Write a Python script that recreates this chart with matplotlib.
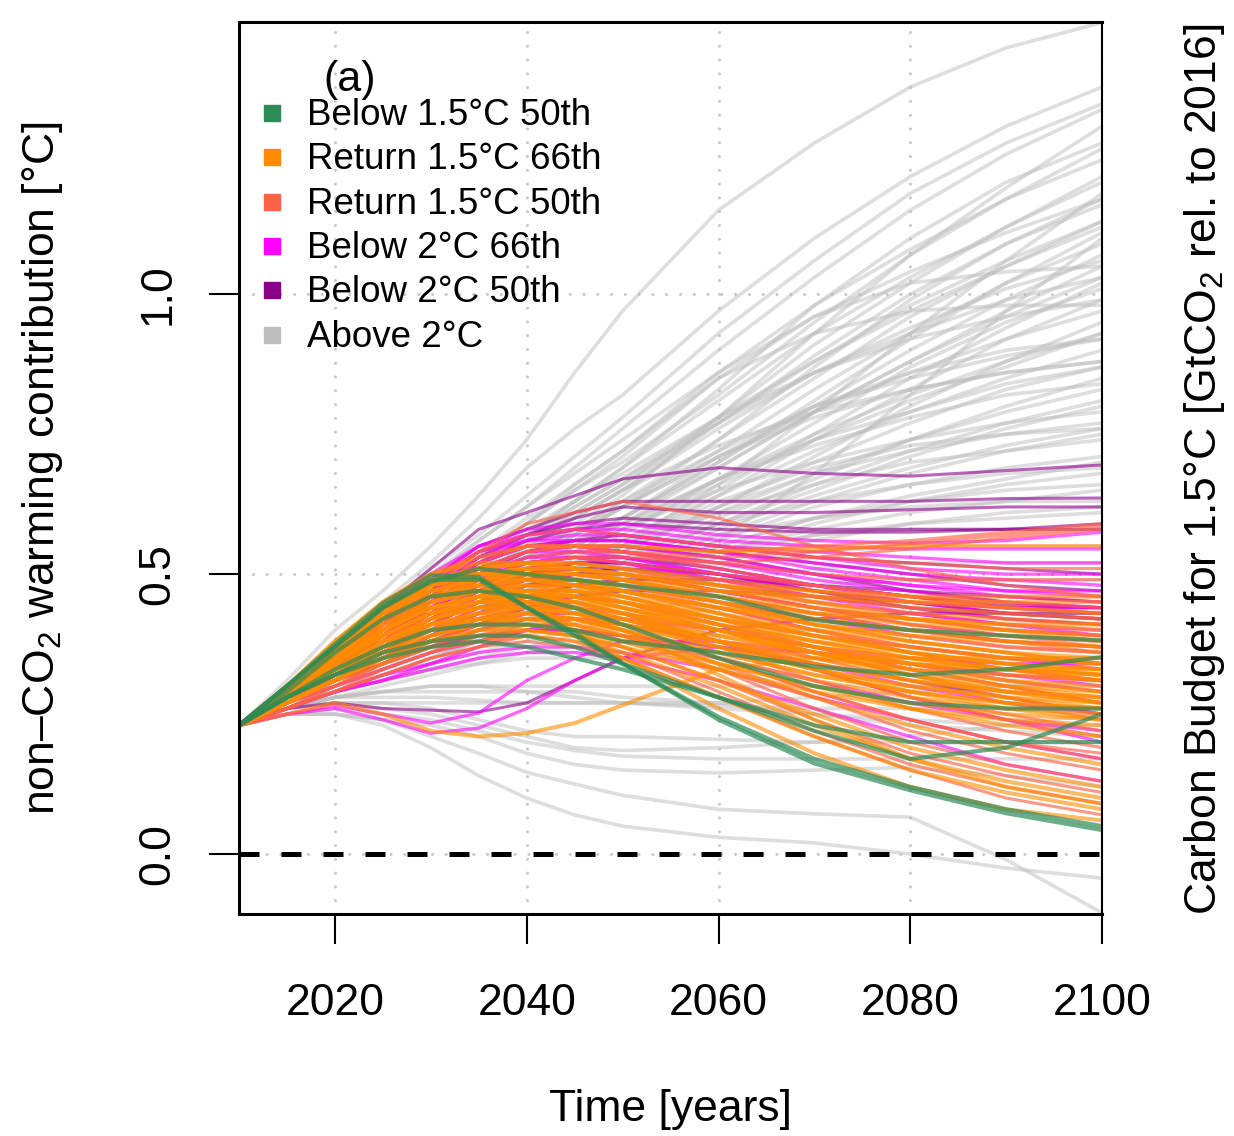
import matplotlib.pyplot as plt

plt.rcParams['font.family'] = ['Liberation Sans', 'DejaVu Sans']
plt.rcParams['mathtext.fontset'] = 'custom'
plt.rcParams['mathtext.rm'] = 'Liberation Sans'
plt.rcParams['mathtext.it'] = 'Liberation Sans:italic'

# time axis of every pathway
years = [2010, 2015, 2020, 2025, 2030, 2035, 2040, 2045, 2050, 2060, 2070, 2080, 2090, 2100]

# non-CO2 warming [degC] per scenario class
above_2 = [
    [.23, .31, .40, .47, .55, .64, .74, .86, .97, 1.15, 1.27, 1.37, 1.44, 1.485],
    [.23, .30, .37, .45, .52, .60, .69, .76, .82, .97, 1.10, 1.21, 1.30, 1.37],
    [.23, .30, .37, .44, .51, .57, .64, .71, .78, .93, 1.06, 1.18, 1.27, 1.34],
    [.23, .29, .36, .43, .49, .56, .62, .69, .76, .90, 1.03, 1.15, 1.25, 1.33],
    [.23, .28, .33, .38, .43, .48, .53, .59, .64, .78, .93, 1.07, 1.19, 1.30],
    [.23, .29, .35, .41, .47, .52, .57, .63, .69, .83, .98, 1.10, 1.20, 1.27],
    [.23, .29, .35, .41, .47, .53, .59, .65, .70, .82, .95, 1.07, 1.17, 1.26],
    [.23, .29, .36, .42, .48, .54, .60, .66, .72, .86, .98, 1.08, 1.17, 1.24],
    [.23, .28, .34, .40, .46, .51, .57, .63, .69, .81, .93, 1.03, 1.12, 1.21],
    [.23, .28, .34, .39, .45, .50, .55, .61, .66, .78, .91, 1.02, 1.12, 1.20],
    [.23, .27, .31, .35, .39, .43, .47, .51, .55, .66, .79, .93, 1.06, 1.18],
    [.23, .30, .37, .44, .50, .56, .62, .68, .74, .86, .96, 1.04, 1.11, 1.17],
    [.23, .28, .33, .38, .43, .48, .52, .57, .62, .74, .87, .99, 1.09, 1.17],
    [.23, .28, .33, .39, .44, .49, .54, .60, .65, .77, .89, 1.00, 1.09, 1.16],
    [.23, .28, .33, .38, .43, .48, .53, .58, .63, .74, .85, .96, 1.05, 1.13],
    [.23, .29, .34, .40, .45, .51, .56, .61, .66, .77, .88, .98, 1.06, 1.13],
    [.23, .28, .34, .40, .45, .51, .56, .62, .67, .78, .88, .97, 1.05, 1.12],
    [.23, .28, .33, .38, .42, .47, .51, .56, .60, .70, .81, .92, 1.02, 1.11],
    [.23, .26, .29, .32, .35, .38, .41, .44, .47, .56, .68, .82, .97, 1.10],
    [.23, .28, .33, .38, .43, .48, .52, .57, .62, .72, .83, .93, 1.02, 1.09],
    [.23, .28, .33, .37, .42, .46, .51, .55, .60, .70, .80, .90, .99, 1.07],
    [.23, .28, .34, .39, .45, .50, .55, .60, .65, .76, .86, .94, 1.01, 1.06],
    [.23, .29, .35, .41, .47, .53, .59, .65, .71, .85, .96, 1.02, 1.04, 1.05],
    [.23, .28, .33, .38, .43, .47, .52, .56, .60, .69, .79, .88, .97, 1.05],
    [.23, .28, .32, .37, .41, .46, .50, .55, .59, .69, .79, .88, .96, 1.03],
    [.23, .29, .34, .40, .46, .51, .57, .62, .67, .77, .86, .93, .99, 1.03],
    [.23, .27, .32, .36, .40, .44, .48, .52, .56, .65, .75, .85, .94, 1.02],
    [.23, .27, .32, .36, .41, .45, .49, .53, .57, .67, .77, .87, .95, 1.01],
    [.23, .27, .31, .35, .39, .43, .47, .51, .55, .64, .74, .83, .92, .99],
    [.23, .29, .34, .40, .46, .52, .58, .63, .68, .78, .86, .92, .96, .99],
    [.23, .29, .35, .41, .47, .53, .59, .66, .72, .85, .93, .97, .98, .98],
    [.23, .28, .33, .38, .43, .48, .53, .57, .62, .71, .79, .86, .92, .97],
    [.23, .27, .31, .35, .39, .43, .47, .51, .54, .62, .71, .80, .88, .95],
    [.23, .27, .32, .36, .41, .45, .49, .54, .58, .67, .75, .82, .88, .93],
    [.23, .28, .32, .37, .42, .46, .50, .54, .58, .66, .74, .81, .87, .93],
    [.23, .28, .33, .38, .43, .48, .53, .58, .63, .72, .80, .85, .89, .92],
    [.23, .27, .31, .36, .40, .45, .50, .55, .60, .71, .80, .86, .90, .92],
    [.23, .27, .31, .36, .40, .44, .48, .52, .56, .64, .72, .79, .85, .90],
    [.23, .28, .33, .39, .44, .50, .55, .60, .65, .73, .79, .83, .86, .88],
    [.23, .28, .33, .38, .43, .48, .53, .58, .62, .71, .78, .83, .86, .88],
    [.23, .27, .31, .35, .39, .43, .47, .51, .54, .62, .70, .77, .83, .87],
    [.23, .28, .33, .37, .42, .47, .51, .55, .59, .67, .74, .79, .84, .87],
    [.23, .27, .31, .35, .39, .42, .46, .50, .53, .60, .67, .74, .80, .85],
    [.23, .28, .32, .37, .42, .46, .51, .55, .59, .67, .73, .78, .82, .84],
    [.23, .27, .31, .35, .38, .42, .46, .50, .54, .61, .68, .74, .79, .83],
    [.23, .27, .31, .34, .38, .41, .45, .48, .52, .59, .66, .72, .77, .81],
    [.23, .27, .31, .35, .38, .42, .45, .49, .52, .59, .65, .71, .76, .80],
    [.23, .28, .32, .37, .41, .45, .50, .54, .58, .65, .70, .74, .77, .79],
    [.23, .28, .32, .36, .40, .44, .48, .52, .55, .62, .68, .72, .75, .77],
    [.23, .27, .31, .35, .39, .43, .47, .51, .55, .63, .69, .73, .75, .76],
    [.23, .27, .30, .34, .38, .41, .45, .48, .51, .58, .64, .69, .73, .76],
    [.23, .27, .30, .34, .37, .41, .44, .47, .50, .57, .63, .68, .72, .75],
    [.23, .27, .31, .35, .39, .43, .47, .51, .55, .61, .66, .70, .72, .74],
    [.23, .27, .30, .34, .37, .40, .44, .47, .50, .56, .62, .66, .69, .71],
    [.23, .27, .31, .34, .38, .41, .44, .47, .50, .55, .60, .64, .67, .70],
    [.23, .27, .31, .35, .39, .43, .47, .50, .53, .59, .63, .66, .68, .69],
    [.23, .26, .30, .33, .36, .40, .43, .46, .48, .54, .59, .63, .66, .68],
    [.23, .26, .30, .33, .37, .40, .43, .46, .49, .55, .60, .63, .65, .66],
    [.23, .27, .30, .34, .37, .40, .43, .46, .49, .54, .58, .61, .63, .65],
    [.23, .27, .31, .35, .38, .42, .45, .49, .52, .57, .60, .62, .63, .63],
    [.23, .26, .29, .33, .36, .39, .42, .45, .47, .52, .56, .59, .61, .62],
    [.23, .26, .30, .33, .36, .39, .42, .45, .48, .53, .57, .59, .60, .61],
    [.23, .27, .31, .34, .38, .41, .44, .47, .50, .54, .57, .58, .58, .58],
    [.23, .26, .29, .32, .35, .38, .41, .44, .46, .51, .54, .55, .55, .55],
    [.23, .26, .29, .32, .35, .38, .40, .43, .45, .49, .51, .52, .52, .52],
    [.23, .26, .29, .32, .34, .37, .39, .41, .43, .46, .48, .49, .49, .49],
    [.23, .26, .29, .31, .34, .36, .38, .40, .42, .44, .45, .46, .46, .46],
    [.23, .26, .29, .31, .33, .35, .37, .39, .40, .42, .43, .43, .43, .43],
    [.23, .26, .28, .30, .32, .34, .36, .37, .38, .39, .40, .40, .40, .40],
    [.23, .26, .29, .31, .33, .34, .35, .35, .35, .35, .35, .35, .35, .35],
    [.23, .26, .28, .29, .30, .30, .30, .30, .30, .30, .30, .30, .30, .30],
    [.23, .26, .28, .29, .30, .30, .29, .28, .27, .26, .25, .24, .23, .23],
    [.23, .26, .28, .29, .29, .29, .29, .29, .28, .27, .25, .23, .22, .21],
    [.23, .26, .27, .27, .27, .27, .27, .27, .27, .27, .28, .29, .30, .31],
    [.23, .26, .28, .28, .28, .275, .27, .27, .27, .265, .26, .26, .26, .26],
    [.23, .26, .27, .26, .25, .23, .21, .19, .185, .19, .20, .21, .23, .25],
    [.23, .26, .27, .27, .26, .24, .22, .21, .21, .205, .20, .20, .20, .20],
    [.23, .25, .26, .25, .24, .22, .20, .185, .175, .17, .17, .17, .17, .17],
    [.23, .25, .25, .24, .23, .21, .18, .16, .15, .145, .15, .155, .14, .12],
    [.23, .25, .25, .24, .21, .18, .146, .125, .105, .08, .072, .066, -.01, -.105],
    [.23, .25, .25, .23, .19, .14, .10, .07, .05, .03, .02, .0, -.025, -.043],
]

below2_50 = [
    [.23, .29, .36, .44, .51, .58, .61, .64, .67, .69, .68, .675, .685, .695],
    [.23, .29, .35, .42, .49, .55, .58, .61, .63, .63, .63, .63, .635, .636],
    [.23, .28, .34, .41, .47, .53, .57, .60, .62, .61, .61, .615, .62, .62],
    [.23, .29, .35, .42, .48, .54, .57, .59, .60, .59, .58, .58, .58, .59],
    [.23, .28, .34, .40, .46, .52, .56, .58, .59, .58, .575, .575, .58, .58],
    [.23, .29, .35, .41, .47, .52, .55, .56, .56, .54, .52, .50, .48, .47],
    [.23, .28, .33, .39, .45, .50, .54, .56, .57, .55, .53, .52, .51, .50],
    [.23, .28, .34, .40, .46, .51, .54, .55, .55, .53, .50, .47, .45, .44],
    [.23, .28, .33, .39, .44, .49, .52, .53, .53, .51, .48, .46, .44, .43],
    [.23, .28, .33, .39, .44, .48, .51, .52, .52, .50, .47, .45, .43, .42],
    [.23, .28, .33, .38, .43, .47, .50, .51, .51, .49, .47, .45, .43, .42],
    [.23, .28, .33, .38, .43, .47, .50, .52, .52, .50, .47, .44, .42, .41],
    [.23, .28, .33, .38, .43, .47, .49, .50, .50, .48, .46, .44, .43, .42],
    [.23, .27, .32, .37, .41, .45, .48, .50, .51, .50, .48, .46, .445, .44],
    [.23, .27, .31, .35, .39, .43, .46, .48, .49, .49, .48, .47, .46, .45],
    [.23, .26, .27, .26, .257, .254, .27, .31, .35, .40, .42, .43, .43, .43],
    [.23, .27, .31, .35, .38, .41, .44, .46, .47, .47, .46, .45, .44, .44],
    [.23, .27, .31, .34, .37, .39, .40, .40, .39, .37, .34, .31, .28, .25],
]

below2_66 = [
    [.23, .29, .35, .42, .49, .55, .58, .59, .59, .57, .56, .555, .56, .575],
    [.23, .29, .35, .42, .48, .54, .57, .58, .58, .56, .55, .545, .545, .545],
    [.23, .30, .37, .44, .50, .55, .57, .58, .57, .55, .53, .51, .50, .50],
    [.23, .29, .35, .41, .47, .53, .56, .57, .57, .55, .54, .53, .52, .52],
    [.23, .29, .36, .43, .49, .54, .56, .56, .56, .54, .51, .49, .47, .46],
    [.23, .29, .36, .42, .48, .53, .55, .55, .54, .52, .50, .48, .47, .47],
    [.23, .28, .34, .41, .47, .52, .55, .56, .56, .54, .52, .50, .49, .48],
    [.23, .29, .35, .42, .47, .52, .55, .55, .54, .51, .48, .45, .43, .42],
    [.23, .28, .34, .40, .46, .51, .54, .55, .55, .53, .50, .48, .46, .45],
    [.23, .29, .35, .41, .46, .51, .54, .54, .53, .50, .47, .45, .44, .44],
    [.23, .28, .34, .40, .45, .50, .53, .54, .54, .52, .49, .47, .45, .44],
    [.23, .28, .33, .39, .45, .50, .53, .53, .53, .50, .48, .46, .44, .43],
    [.23, .28, .34, .40, .45, .50, .52, .53, .52, .49, .46, .43, .41, .39],
    [.23, .28, .33, .39, .44, .49, .52, .53, .52, .49, .46, .44, .42, .41],
    [.23, .28, .34, .39, .44, .48, .51, .51, .50, .47, .44, .42, .40, .39],
    [.23, .28, .33, .38, .44, .48, .51, .52, .51, .48, .45, .43, .41, .40],
    [.23, .28, .33, .38, .43, .47, .50, .51, .50, .47, .44, .41, .39, .38],
    [.23, .28, .33, .38, .43, .47, .49, .49, .48, .45, .42, .40, .38, .37],
    [.23, .28, .32, .37, .42, .46, .49, .50, .49, .46, .43, .40, .38, .37],
    [.23, .27, .32, .37, .41, .45, .48, .49, .48, .45, .42, .39, .37, .36],
    [.23, .28, .33, .38, .42, .46, .48, .48, .47, .44, .40, .37, .35, .33],
    [.23, .27, .32, .36, .40, .43, .45, .46, .45, .42, .39, .37, .35, .34],
    [.23, .27, .32, .36, .40, .44, .46, .46, .45, .41, .37, .33, .30, .27],
    [.23, .27, .31, .35, .39, .42, .44, .44, .43, .40, .37, .34, .31, .29],
    [.23, .27, .31, .34, .37, .40, .42, .42, .41, .38, .34, .30, .27, .25],
    [.23, .27, .31, .35, .38, .41, .43, .43, .42, .38, .33, .28, .24, .20],
    [.23, .27, .30, .33, .36, .38, .40, .40, .39, .35, .31, .27, .24, .22],
    [.23, .26, .29, .32, .34, .36, .37, .37, .36, .33, .28, .24, .20, .17],
    [.23, .26, .29, .31, .34, .37, .40, .42, .42, .40, .37, .35, .34, .34],
    [.23, .25, .266, .25, .234, .252, .31, .35, .38, .38, .36, .34, .32, .30],
    [.23, .25, .26, .24, .216, .225, .26, .31, .35, .37, .36, .34, .32, .31],
    [.23, .26, .29, .31, .33, .35, .36, .36, .35, .31, .26, .21, .16, .13],
]

return15_50 = [
    [.23, .29, .35, .42, .48, .54, .59, .61, .63, .60, .55, .51, .48, .46],
    [.23, .28, .34, .40, .46, .51, .54, .55, .55, .54, .55, .56, .575, .59],
    [.23, .28, .34, .40, .45, .50, .53, .54, .54, .53, .54, .555, .57, .585],
    [.23, .28, .33, .39, .45, .49, .52, .53, .53, .52, .53, .545, .565, .58],
    [.23, .29, .36, .43, .49, .54, .57, .58, .57, .55, .53, .52, .51, .51],
    [.23, .28, .34, .40, .46, .51, .54, .55, .54, .52, .50, .49, .49, .49],
    [.23, .29, .35, .42, .48, .52, .55, .55, .54, .51, .48, .46, .44, .43],
    [.23, .28, .33, .39, .44, .49, .52, .53, .52, .50, .48, .46, .45, .44],
    [.23, .28, .33, .38, .43, .48, .51, .51, .50, .47, .44, .42, .40, .39],
    [.23, .28, .34, .40, .45, .49, .51, .51, .50, .47, .44, .41, .39, .37],
    [.23, .28, .33, .38, .43, .47, .50, .50, .49, .46, .43, .40, .38, .36],
    [.23, .27, .32, .37, .42, .46, .49, .49, .48, .45, .41, .38, .36, .34],
    [.23, .27, .32, .37, .42, .45, .48, .48, .47, .43, .39, .36, .33, .31],
    [.23, .28, .33, .38, .43, .47, .49, .49, .48, .44, .40, .36, .33, .31],
    [.23, .27, .31, .35, .38, .41, .42, .42, .41, .38, .35, .33, .32, .31],
    [.23, .27, .32, .36, .41, .45, .47, .47, .46, .42, .37, .33, .30, .27],
    [.23, .28, .33, .37, .42, .45, .47, .47, .45, .41, .36, .32, .28, .25],
    [.23, .27, .31, .36, .40, .44, .46, .46, .45, .40, .35, .31, .27, .24],
    [.23, .27, .32, .36, .40, .43, .45, .45, .43, .38, .33, .28, .25, .22],
    [.23, .27, .31, .35, .39, .43, .45, .45, .43, .38, .33, .28, .24, .21],
    [.23, .27, .31, .35, .39, .42, .44, .44, .42, .37, .31, .26, .22, .19],
    [.23, .27, .31, .35, .39, .41, .43, .42, .40, .35, .29, .24, .20, .18],
    [.23, .27, .30, .34, .38, .41, .43, .43, .41, .35, .29, .24, .20, .17],
    [.23, .26, .30, .34, .37, .40, .42, .42, .40, .34, .28, .22, .18, .15],
    [.23, .26, .30, .33, .36, .39, .41, .41, .39, .33, .26, .20, .16, .13],
    [.23, .26, .29, .33, .36, .38, .40, .39, .37, .31, .24, .18, .14, .11],
    [.23, .26, .29, .32, .35, .37, .39, .38, .36, .29, .22, .16, .12, .09],
    [.23, .26, .29, .32, .35, .37, .38, .37, .35, .28, .21, .15, .10, .07],
]

return15_66 = [
    [.23, .30, .38, .45, .50, .53, .55, .55, .55, .54, .545, .55, .55, .55],
    [.23, .30, .37, .44, .48, .50, .51, .51, .50, .48, .47, .46, .46, .46],
    [.23, .30, .37, .44, .48, .50, .50, .50, .49, .47, .46, .45, .45, .45],
    [.23, .30, .38, .45, .50, .52, .52, .51, .49, .45, .41, .38, .36, .34],
    [.23, .30, .37, .44, .49, .51, .52, .52, .51, .49, .47, .45, .44, .43],
    [.23, .29, .36, .43, .48, .51, .52, .52, .51, .48, .45, .42, .40, .38],
    [.23, .29, .37, .44, .48, .50, .51, .51, .50, .48, .46, .44, .43, .42],
    [.23, .29, .37, .44, .49, .51, .52, .51, .50, .47, .45, .43, .42, .41],
    [.23, .30, .37, .44, .49, .50, .50, .49, .47, .43, .39, .36, .34, .32],
    [.23, .30, .37, .44, .48, .50, .50, .49, .48, .45, .43, .42, .41, .41],
    [.23, .29, .36, .43, .48, .50, .51, .50, .49, .46, .44, .42, .41, .40],
    [.23, .29, .36, .43, .47, .49, .50, .50, .49, .46, .43, .41, .40, .39],
    [.23, .29, .37, .43, .48, .49, .49, .48, .46, .42, .38, .35, .33, .31],
    [.23, .29, .36, .43, .47, .49, .49, .48, .47, .44, .41, .39, .38, .37],
    [.23, .29, .36, .42, .47, .49, .50, .49, .48, .45, .42, .40, .39, .38],
    [.23, .29, .36, .42, .46, .48, .48, .47, .45, .41, .37, .34, .31, .29],
    [.23, .29, .35, .42, .46, .48, .49, .49, .47, .44, .42, .40, .38, .37],
    [.23, .29, .35, .42, .46, .47, .47, .46, .45, .42, .39, .37, .35, .34],
    [.23, .29, .35, .41, .46, .48, .49, .48, .47, .44, .41, .39, .37, .36],
    [.23, .29, .35, .41, .45, .47, .47, .46, .44, .40, .36, .32, .29, .27],
    [.23, .29, .35, .41, .45, .47, .48, .48, .46, .43, .40, .38, .36, .35],
    [.23, .28, .35, .40, .44, .46, .46, .45, .44, .41, .38, .36, .34, .33],
    [.23, .29, .35, .40, .45, .47, .48, .47, .46, .42, .40, .37, .35, .34],
    [.23, .28, .34, .40, .44, .46, .46, .46, .44, .40, .36, .32, .29, .28],
    [.23, .28, .34, .40, .44, .45, .45, .44, .42, .38, .34, .31, .29, .28],
    [.23, .28, .34, .40, .44, .46, .47, .47, .45, .42, .39, .36, .34, .33],
    [.23, .28, .34, .40, .44, .46, .47, .46, .45, .41, .38, .35, .33, .32],
    [.23, .28, .34, .39, .43, .45, .45, .44, .43, .40, .37, .35, .33, .32],
    [.23, .28, .34, .39, .43, .45, .46, .46, .44, .40, .37, .34, .32, .31],
    [.23, .28, .34, .39, .43, .44, .44, .43, .41, .37, .33, .30, .28, .27],
    [.23, .28, .34, .39, .43, .45, .46, .45, .43, .40, .36, .33, .31, .30],
    [.23, .28, .33, .38, .42, .44, .45, .45, .43, .39, .36, .33, .30, .29],
    [.23, .28, .33, .38, .42, .44, .44, .43, .42, .39, .36, .34, .33, .32],
    [.23, .28, .33, .38, .42, .44, .45, .44, .42, .38, .35, .32, .30, .28],
    [.23, .28, .33, .38, .41, .43, .43, .42, .40, .36, .32, .29, .27, .26],
    [.23, .28, .33, .38, .41, .43, .44, .44, .42, .38, .34, .31, .29, .27],
    [.23, .28, .33, .37, .41, .42, .43, .42, .41, .38, .36, .34, .33, .33],
    [.23, .28, .33, .37, .41, .43, .44, .43, .41, .37, .33, .30, .28, .26],
    [.23, .28, .32, .37, .40, .42, .42, .41, .39, .35, .31, .28, .26, .25],
    [.23, .28, .32, .37, .40, .42, .43, .42, .40, .36, .32, .29, .26, .24],
    [.23, .28, .34, .40, .44, .46, .46, .45, .43, .38, .33, .29, .27, .26],
    [.23, .28, .32, .36, .40, .42, .42, .42, .39, .34, .30, .26, .23, .21],
    [.23, .27, .32, .36, .39, .41, .41, .40, .38, .34, .30, .27, .25, .24],
    [.23, .27, .32, .36, .39, .41, .42, .41, .38, .33, .28, .23, .19, .16],
    [.23, .27, .31, .35, .38, .40, .40, .39, .37, .33, .29, .26, .24, .23],
    [.23, .27, .31, .35, .38, .40, .41, .40, .37, .31, .25, .19, .15, .12],
    [.23, .27, .31, .35, .38, .39, .40, .39, .36, .30, .23, .17, .13, .10],
    [.23, .27, .31, .34, .37, .38, .39, .38, .35, .28, .21, .15, .11, .08],
    [.23, .29, .36, .42, .47, .48, .47, .44, .40, .32, .24, .17, .12, .09],
    [.23, .29, .37, .44, .49, .49, .45, .40, .35, .26, .18, .12, .08, .06],
    [.23, .25, .27, .25, .22, .21, .216, .234, .266, .33, .35, .35, .35, .35],
]

below15_50 = [
    [.23, .30, .375, .448, .498, .495, .441, .395, .341, .24, .162, .114, .073, .043],
    [.23, .30, .37, .44, .49, .49, .44, .39, .34, .245, .17, .12, .08, .05],
    [.23, .30, .37, .44, .486, .51, .50, .49, .48, .46, .418, .40, .39, .382],
    [.23, .28, .33, .37, .40, .41, .41, .40, .38, .36, .335, .32, .33, .352],
    [.23, .28, .32, .36, .38, .39, .39, .37, .34, .28, .22, .17, .19, .25],
    [.23, .28, .32, .35, .37, .38, .37, .35, .33, .28, .23, .20, .20, .20],
    [.23, .29, .36, .42, .46, .47, .46, .44, .41, .35, .30, .27, .26, .26],
]

legend_labels = ['Below 1.5°C 50th', 'Return 1.5°C 66th', 'Return 1.5°C 50th',
                 'Below 2°C 66th', 'Below 2°C 50th', 'Above 2°C']
legend_colors = ['#2E8B57', '#FF8C00', '#FF6347', '#FF00FF', '#8B008B', '#BEBEBE']

fig = plt.figure(figsize=(12.34, 11.36), dpi=100)
ax = fig.add_axes([0.1937, 0.1954, 0.6994, 0.7852])

# scenario bundles, drawn from the warmest class upwards
groups = [
    (above_2, '#BEBEBE', 2.6, 0.5),
    (below2_50, '#8B008B', 2.2, 0.6),
    (below2_66, '#FF00FF', 2.4, 0.6),
    (return15_50, '#FF6347', 2.2, 0.65),
    (return15_66, '#FF8C00', 2.9, 0.6),
    (below15_50, '#2E8B57', 3.0, 0.7),
]
for data, col, lw, a in groups:
    for row in data:
        ax.plot(years, row, color=col, lw=lw, alpha=a, solid_joinstyle='round', zorder=2)

ax.axhline(0, color='black', lw=3.6, ls=(0, (4, 4.4)), zorder=4)

ax.set_xlim(2010, 2100)
ax.set_ylim(-0.107, 1.486)
ax.set_xticks([2020, 2040, 2060, 2080, 2100])
ax.set_yticks([0.0, 0.5, 1.0], ['0.0', '0.5', '1.0'], rotation=90, va='center')
ax.tick_params(axis='both', direction='out', length=21.6, width=1.5, labelsize=32)
ax.tick_params(axis='x', pad=28)
ax.tick_params(axis='y', pad=22)

ax.grid(True, color='#C8C8C8', lw=2.2, ls=(0, (0.01, 4.5)))
for gl in ax.get_xgridlines() + ax.get_ygridlines():
    gl.set_dash_capstyle('round')
ax.set_axisbelow(True)

for side in ['left', 'bottom', 'top']:
    ax.spines[side].set_linewidth(2.2)
ax.spines['right'].set_linewidth(1.5)
ax.spines['right'].set_linestyle((0, (3, 1)))

ax.set_xlabel('Time [years]', fontsize=32)
ax.xaxis.set_label_coords(0.5, -0.2197)
ax.xaxis.label.set_va('center')
ax.set_ylabel('non–CO$_2$ warming contribution [°C]', fontsize=32)
ax.yaxis.set_label_coords(-0.228, 0.5)
ax.yaxis.label.set_va('center')
ax.text(1.119, 0.499, 'Carbon Budget for 1.5°C [GtCO$_2$ rel. to 2016]', transform=ax.transAxes,
        rotation=90, ha='center', va='center', fontsize=32)

# legend: coloured squares with labels, one row each
for i, (lab, col) in enumerate(zip(legend_labels, legend_colors)):
    yb = 0.8845 - i * 0.0497
    ax.plot([0.0382], [yb + 0.0135], transform=ax.transAxes, ls='none', marker='s',
            ms=12, color=col, clip_on=False, zorder=6)
    ax.text(0.0788, yb, lab, transform=ax.transAxes, ha='left', va='baseline',
            fontsize=26.5, zorder=6)
ax.text(0.1286, 0.935, '(a)', transform=ax.transAxes, ha='center', va='center', fontsize=31)

fig.savefig('out.png', dpi=100)
